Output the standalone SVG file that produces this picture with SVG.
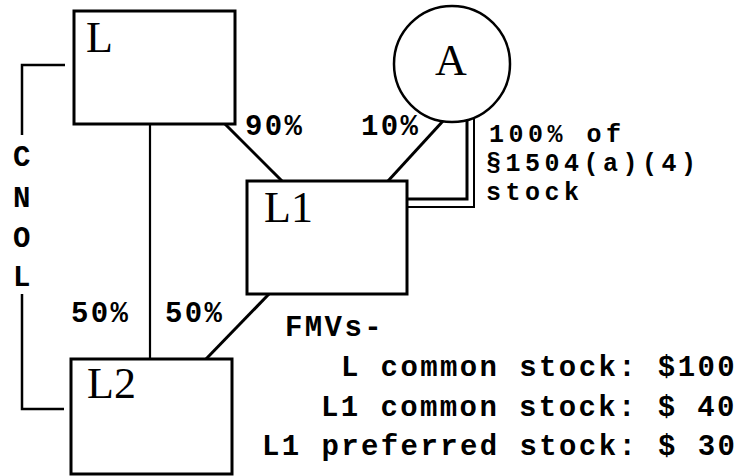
<svg xmlns="http://www.w3.org/2000/svg" width="741" height="476" viewBox="0 0 741 476">
<style>
.box{fill:#fff;stroke:#000;stroke-width:3}
.lbl{font-family:"Liberation Serif",serif;font-size:44px;fill:#000}
.t{font-family:"Liberation Mono",monospace;font-size:29px;font-weight:bold;letter-spacing:2.4px;fill:#000}
.s{font-family:"Liberation Mono",monospace;font-size:25px;font-weight:bold;letter-spacing:4.5px;fill:#000}
.c{fill:none;stroke:#000;stroke-linecap:butt}
</style>
<rect width="741" height="476" fill="#fff"/>
<g id="connectors">
<line class="c" x1="150" y1="124" x2="150" y2="359" stroke-width="2.2"/>
<line class="c" x1="225" y1="124" x2="282" y2="181" stroke-width="3"/>
<line class="c" x1="443" y1="121" x2="388" y2="181" stroke-width="3"/>
<line class="c" x1="269" y1="294" x2="206" y2="359" stroke-width="3"/>
<path class="c" d="M467,120 V199 H407" stroke-width="3"/>
<path class="c" d="M474,118 V207 H407" stroke-width="2"/>
<path class="c" d="M65,65 H22 V135" stroke-width="2.5"/>
<path class="c" d="M22,294 V409 H64" stroke-width="2.5"/>
</g>
<g id="node-L">
<rect class="box" x="74" y="11" width="161" height="113"/>
<text class="lbl" x="86" y="52">L</text>
</g>
<g id="node-A">
<circle cx="452" cy="64" r="58" fill="#fff" stroke="#000" stroke-width="2.5"/>
<text class="lbl" x="451" y="75" text-anchor="middle">A</text>
</g>
<g id="node-L1">
<rect class="box" x="247" y="181" width="160" height="113"/>
<text class="lbl" x="264" y="222">L1</text>
</g>
<g id="node-L2">
<rect class="box" x="71" y="359" width="161" height="115"/>
<text class="lbl" x="87" y="398">L2</text>
</g>
<g id="labels">
<text class="t" x="245" y="135">90%</text>
<text class="t" x="361" y="135">10%</text>
<text class="s" x="489" y="142">100% of</text>
<text class="s" x="486" y="171">§1504(a)(4)</text>
<text class="s" x="486" y="200">stock</text>
<text class="t" x="71" y="322">50%</text>
<text class="t" x="165" y="322">50%</text>
<text class="t" x="23" y="166" text-anchor="middle">C</text>
<text class="t" x="23" y="207" text-anchor="middle">N</text>
<text class="t" x="23" y="247" text-anchor="middle">O</text>
<text class="t" x="23" y="286" text-anchor="middle">L</text>
<text class="t" x="285" y="336">FMVs-</text>
<text class="t" x="341" y="376">L common stock: $100</text>
<text class="t" x="321" y="416">L1 common stock: $ 40</text>
<text class="t" x="262" y="455">L1 preferred stock: $ 30</text>
</g>
</svg>
